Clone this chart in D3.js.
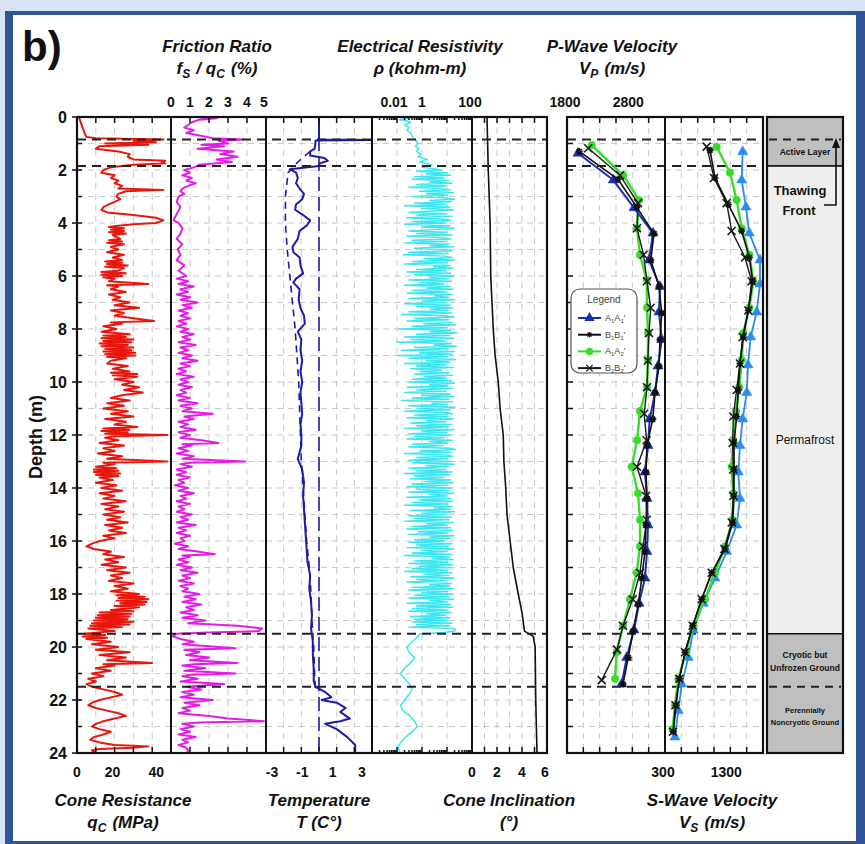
<!DOCTYPE html>
<html><head><meta charset="utf-8">
<script src="https://cdn.jsdelivr.net/npm/d3@7"></script>
<style>body{margin:0;background:#dae3f3}svg{display:block}</style>
</head><body><svg id="c" width="865" height="844"></svg>
<script>
// ---------------- DATA ----------------
const depthTicks = [0,2,4,6,8,10,12,14,16,18,20,22,24];
const qcTickLabels = [0,20,40];
const frTickLabels = [0,1,2,3,4,5];
const tempTickLabels = [-3,-1,1,3];
const resTickLabels = [0.01,1,100];
const incTickLabels = [0,2,4,6];
const vpTickLabels = [1800,2800];
const vsTickLabels = [300,1300];
const boundaryDepths = [0.85,1.85,19.5,21.5];

// cone resistance qc (MPa): [depth m, qc]
const qcData = [[0,1],[0.2,2],[0.4,3],[0.6,4],[0.75,5],[0.8,10],[0.85,46],[0.9,30],[0.95,42],[1.0,15],[1.05,38],[1.1,12],[1.2,10],[1.3,22],[1.4,28],[1.5,27],[1.6,30],[1.65,47],[1.7,45],[1.75,47],[1.8,30],[1.9,18],[2.0,14],[2.1,13],[2.2,20],[2.3,18],[2.4,22],[2.5,20],[2.6,24],[2.7,22],[2.75,46],[2.8,26],[2.9,22],[3.0,21],[3.1,23],[3.2,20],[3.3,17],[3.4,14],[3.5,13],[3.6,16],[3.7,30],[3.8,42],[3.9,46],[4.0,42],[4.05,30],[4.1,22],[4.15,17],[4.2,25],[4.25,18],[4.3,25],[4.35,17],[4.4,26],[4.45,19],[4.5,20],[4.6,23],[4.65,17],[4.7,24],[4.75,16],[4.8,25],[4.9,18],[5.0,22],[5.1,16],[5.2,25],[5.3,19],[5.4,24],[5.45,15],[5.5,24],[5.55,16],[5.6,27],[5.65,15],[5.7,25],[5.8,22],[5.85,13],[5.9,26],[5.95,13],[6.0,24],[6.05,14],[6.1,20],[6.2,17],[6.3,38],[6.35,16],[6.4,22],[6.5,18],[6.6,26],[6.7,17],[6.8,23],[6.9,19],[7.0,28],[7.1,20],[7.2,33],[7.3,18],[7.4,25],[7.5,20],[7.6,31],[7.7,41],[7.75,18],[7.8,24],[7.9,14],[8.0,21],[8.1,13],[8.2,28],[8.25,14],[8.3,26],[8.35,13],[8.4,30],[8.45,14],[8.5,29],[8.55,12],[8.6,27],[8.65,13],[8.7,30],[8.75,15],[8.8,29],[8.85,14],[8.9,31],[8.95,15],[9.0,31],[9.05,16],[9.1,26],[9.2,18],[9.3,16],[9.4,27],[9.5,19],[9.6,28],[9.65,18],[9.7,32],[9.75,19],[9.8,32],[9.9,20],[10.0,30],[10.1,24],[10.2,33],[10.3,25],[10.4,35],[10.5,24],[10.6,18],[10.7,28],[10.8,16],[10.9,25],[11.0,14],[11.1,27],[11.2,18],[11.3,30],[11.4,15],[11.5,26],[11.6,20],[11.7,32],[11.75,14],[11.8,28],[11.85,13],[11.9,27],[11.95,15],[12.0,48],[12.05,20],[12.1,15],[12.2,22],[12.3,12],[12.4,25],[12.5,14],[12.6,20],[12.7,11],[12.8,24],[12.9,16],[13.0,48],[13.05,14],[13.1,20],[13.2,10],[13.25,21],[13.3,9],[13.35,22],[13.4,9],[13.45,23],[13.5,10],[13.55,22],[13.6,12],[13.7,19],[13.8,10],[13.9,21],[14.0,13],[14.1,24],[14.2,12],[14.3,20],[14.4,14],[14.5,26],[14.6,13],[14.7,22],[14.8,15],[14.9,25],[15.0,14],[15.1,23],[15.2,16],[15.3,27],[15.4,15],[15.5,24],[15.6,17],[15.7,26],[15.8,14],[15.9,20],[16.0,12],[16.1,8],[16.2,5],[16.3,9],[16.4,18],[16.5,14],[16.6,25],[16.7,15],[16.8,22],[16.9,13],[17.0,26],[17.1,16],[17.2,28],[17.3,18],[17.4,24],[17.5,17],[17.6,30],[17.7,20],[17.8,27],[17.9,18],[18.0,33],[18.05,21],[18.1,36],[18.15,22],[18.2,38],[18.25,21],[18.3,37],[18.35,23],[18.4,36],[18.45,20],[18.5,33],[18.6,18],[18.65,30],[18.7,12],[18.75,29],[18.8,11],[18.85,28],[18.9,10],[18.95,27],[19.0,9],[19.05,30],[19.1,8],[19.15,28],[19.2,7],[19.25,24],[19.3,6],[19.4,20],[19.5,4],[19.55,15],[19.6,3],[19.65,16],[19.7,5],[19.8,18],[19.9,8],[20.0,22],[20.1,10],[20.2,28],[20.3,12],[20.4,26],[20.5,16],[20.6,40],[20.65,14],[20.7,20],[20.8,10],[20.9,18],[21.0,8],[21.1,14],[21.2,6],[21.3,10],[21.4,5],[21.5,8],[21.6,14],[21.7,20],[21.8,24],[21.9,18],[22.0,12],[22.1,8],[22.2,6],[22.3,10],[22.4,16],[22.5,22],[22.6,26],[22.7,20],[22.8,14],[22.9,10],[23.0,8],[23.1,12],[23.2,18],[23.3,14],[23.4,9],[23.5,7],[23.6,12],[23.7,20],[23.75,38],[23.8,30],[23.85,12],[23.9,8],[24.0,10]];

// friction ratio fs/qc (%): [depth, %]
const frData = [[0,1.3],[0.05,2.4],[0.1,1.5],[0.2,1.1],[0.3,0.9],[0.4,0.7],[0.5,1.2],[0.6,0.8],[0.7,1.5],[0.8,2.2],[0.85,3.8],[0.9,2.5],[1.0,3.0],[1.05,1.6],[1.1,2.8],[1.2,1.4],[1.3,3.3],[1.4,2.6],[1.5,3.5],[1.6,2.4],[1.7,3.2],[1.8,1.5],[1.9,1.2],[2.0,0.7],[2.1,1.0],[2.2,0.6],[2.3,1.1],[2.4,0.8],[2.5,1.3],[2.6,0.9],[2.7,0.6],[2.8,0.5],[2.9,0.7],[3.0,0.4],[3.2,0.3],[3.4,0.5],[3.6,0.35],[3.8,0.2],[3.9,0.15],[4.0,0.4],[4.2,0.6],[4.4,0.5],[4.6,0.3],[4.8,0.6],[5.0,0.35],[5.2,0.5],[5.4,0.3],[5.6,0.7],[5.8,0.4],[6.0,0.8],[6.1,0.3],[6.2,0.9],[6.3,0.4],[6.4,1.2],[6.5,0.5],[6.6,0.9],[6.7,0.3],[6.8,1.0],[6.9,0.5],[7.0,1.4],[7.1,0.6],[7.2,1.1],[7.3,0.4],[7.4,0.9],[7.5,0.5],[7.6,1.0],[7.7,0.4],[7.8,0.8],[7.9,0.3],[8.0,0.9],[8.1,0.5],[8.2,1.2],[8.3,0.6],[8.4,1.0],[8.5,0.4],[8.6,1.3],[8.7,0.5],[8.8,0.9],[8.9,0.4],[9.0,1.1],[9.1,0.6],[9.2,1.4],[9.3,0.5],[9.4,1.0],[9.5,0.4],[9.6,0.8],[9.7,0.3],[9.8,1.2],[9.9,0.5],[10.0,0.9],[10.1,0.4],[10.2,1.1],[10.3,0.5],[10.4,0.8],[10.5,0.3],[10.6,1.0],[10.7,0.4],[10.8,1.4],[10.9,0.5],[11.0,1.1],[11.1,0.6],[11.2,2.2],[11.3,0.7],[11.4,1.2],[11.5,0.4],[11.6,0.9],[11.7,0.5],[11.8,1.3],[11.9,0.4],[12.0,1.0],[12.1,0.5],[12.2,1.6],[12.3,2.5],[12.35,0.6],[12.4,1.1],[12.5,0.4],[12.6,0.9],[12.7,0.3],[12.8,1.2],[12.9,0.6],[13.0,3.9],[13.05,1.0],[13.1,0.5],[13.2,1.1],[13.3,0.3],[13.4,0.8],[13.5,0.3],[13.6,1.0],[13.7,0.4],[13.8,0.7],[13.9,0.2],[14.0,0.9],[14.1,0.4],[14.2,1.2],[14.3,0.5],[14.4,0.8],[14.5,0.3],[14.6,1.0],[14.7,0.4],[14.8,0.7],[14.9,0.3],[15.0,1.1],[15.1,0.5],[15.2,0.9],[15.3,0.3],[15.4,1.3],[15.5,0.4],[15.6,0.8],[15.7,0.3],[15.8,1.0],[15.9,0.5],[16.0,0.7],[16.1,0.2],[16.2,0.9],[16.3,0.4],[16.4,1.4],[16.5,2.3],[16.55,0.6],[16.6,1.0],[16.7,0.4],[16.8,0.9],[16.9,0.3],[17.0,1.1],[17.1,0.5],[17.2,1.4],[17.3,0.6],[17.4,1.0],[17.5,0.4],[17.6,1.2],[17.7,0.5],[17.8,0.9],[17.9,0.6],[18.0,1.5],[18.1,0.7],[18.2,1.3],[18.3,0.6],[18.4,1.6],[18.5,0.8],[18.6,1.2],[18.7,0.5],[18.8,1.4],[18.9,0.6],[19.0,1.8],[19.1,0.9],[19.2,3.5],[19.3,4.8],[19.4,4.6],[19.45,2.0],[19.5,0.3],[19.6,0.1],[19.7,0.5],[19.8,1.2],[19.9,0.6],[20.0,2.5],[20.05,3.4],[20.1,0.7],[20.2,1.5],[20.3,0.8],[20.4,2.0],[20.5,1.0],[20.6,3.5],[20.65,1.2],[20.7,0.6],[20.8,1.8],[20.9,0.7],[21.0,3.4],[21.05,1.0],[21.1,0.6],[21.2,1.4],[21.3,0.5],[21.4,2.8],[21.5,0.8],[21.6,1.6],[21.7,0.6],[21.8,1.2],[21.9,0.5],[22.0,2.2],[22.1,0.7],[22.2,1.5],[22.3,0.6],[22.4,1.0],[22.5,0.4],[22.6,2.0],[22.7,3.0],[22.8,4.9],[22.85,1.5],[22.9,0.6],[23.0,1.2],[23.1,0.5],[23.2,1.0],[23.3,0.4],[23.4,1.3],[23.5,0.6],[23.6,0.9],[23.7,0.4],[23.8,0.8],[23.9,0.9],[24.0,0.85]];

// temperature (°C): measured and minimum profiles
const tempData = [[0,0],[0.85,0],[0.87,3],[0.89,-0.2],[1.0,-0.2],[1.2,-0.25],[1.3,-0.5],[1.45,-0.5],[1.55,0.3],[1.65,0.5],[1.75,0.05],[1.85,0],[1.97,-1.65],[2.1,-1.3],[2.3,-1.2],[2.5,-1.3],[2.7,-1.1],[2.9,-0.85],[3.1,-0.95],[3.3,-1.3],[3.5,-1.35],[3.7,-0.9],[3.9,-0.5],[4.1,-0.7],[4.3,-1.1],[4.6,-1.2],[4.9,-1.5],[5.1,-1.45],[5.3,-1.1],[5.6,-1.05],[5.9,-0.9],[6.1,-1.3],[6.25,-1.45],[6.5,-1.1],[6.9,-1.15],[7.2,-1.05],[7.5,-0.85],[7.8,-0.8],[8.1,-1.2],[8.4,-1.0],[8.8,-1.05],[9.2,-0.95],[9.6,-1.05],[10.0,-0.95],[10.4,-1.05],[10.8,-1.0],[11.2,-0.95],[11.6,-1.05],[12.0,-1.0],[12.4,-1.0],[12.9,-1.2],[13.3,-0.95],[13.8,-0.85],[14.3,-0.9],[14.8,-0.85],[15.3,-0.8],[15.8,-0.75],[16.3,-0.7],[16.8,-0.65],[17.3,-0.5],[17.8,-0.55],[18.3,-0.45],[18.8,-0.4],[19.3,-0.45],[19.8,-0.35],[20.3,-0.35],[20.8,-0.3],[21.3,-0.3],[21.5,-0.2],[21.7,0.35],[21.9,0.7],[22.0,0.15],[22.1,1.0],[22.3,1.5],[22.45,1.2],[22.7,1.75],[22.8,1.2],[22.9,0.35],[23.1,1.0],[23.4,1.6],[23.7,2.05],[24,2.05]];
const tempMinData = [[1.3,-0.5],[1.7,-1.2],[2.1,-1.75],[3.0,-1.9],[4.0,-1.9],[5.0,-1.8],[6.0,-1.65],[7.0,-1.5],[8.0,-1.35],[9.0,-1.25],[10.0,-1.15],[11.0,-1.1],[12.0,-1.05],[13.0,-1.0],[14.0,-0.9],[15.0,-0.8],[16.0,-0.7],[17.0,-0.55],[18.0,-0.45],[19.0,-0.4],[20.0,-0.3],[21.0,-0.25],[21.6,-0.2]];
const tempZeroData = [[0,0],[24,0]];

// electrical resistivity (kohm-m): shallow part, dense permafrost part (0.05 m spacing from 2.0 m), deep part
const resTop = [[0,0.15],[0.05,0.3],[0.1,0.12],[0.15,0.25],[0.2,0.35],[0.3,0.2],[0.4,0.3],[0.5,0.25],[0.6,0.35],[0.7,0.4],[0.8,0.45],[0.9,0.6],[1.0,0.7],[1.1,0.55],[1.2,0.75],[1.3,0.6],[1.4,0.9],[1.5,0.7],[1.6,1.6],[1.7,0.8],[1.8,2.5],[1.9,1.0],[1.95,3]];
const resFrozenStart = 2.0, resFrozenStep = 0.05;
const resFrozen = [
6,0.6,10,1.5,14,0.5,8,0.4,12,2,16,0.6,9,0.3,5,14,0.8,18,1.5,11,
0.4,7,20,2,15,0.5,9,0.2,13,1,19,3,0.3,10,0.6,16,0.25,6,14,0.4,
9,0.2,13,1,19,3,0.3,10,0.6,16,0.25,6,14,0.4,9,0.2,12,2,18,0.5,
7,15,0.3,11,0.18,8,16,1.2,20,0.4,10,0.2,13,3,17,0.6,9,0.25,14,0.5,
19,2,11,0.3,15,0.8,8,0.2,13,1.5,18,0.4,10,0.25,16,3,12,0.3,20,1,
9,0.2,14,0.6,17,2,11,0.3,15,0.15,8,19,0.5,12,0.25,16,1.2,22,0.4,10,
0.12,14,2,25,0.6,13,0.2,18,0.35,9,0.1,15,3,24,0.5,12,0.15,20,0.8,16,
0.1,11,0.3,22,1.5,14,0.2,9,0.6,18,0.35,6,0.8,12,0.5,17,1.2,10,0.4,15,
0.3,20,2,11,0.25,16,0.6,9,0.2,14,1,19,0.4,12,0.15,17,2.5,10,0.3,21,
0.7,13,0.2,8,16,0.5,11,0.25,18,1.5,9,0.35,15,0.6,12,0.2,19,1,10,0.3,
14,0.5,8,0.25,16,2,11,0.4,7,0.3,13,22,0.8,14,0.2,9,17,0.6,11,0.3,
15,0.4,20,1.5,12,0.3,9,0.6,16,0.2,13,0.5,8,0.35,14,1.2,18,0.4,10,0.25,
15,0.6,12,0.3,19,2,10,0.25,14,0.8,17,0.4,11,0.2,16,3,13,0.35,20,1,
9,0.3,15,0.5,12,0.2,18,1.5,10,0.4,14,0.25,17,0.7,11,0.3,19,2,13,0.5,
8,0.3,16,0.6,12,0.25,19,1,10,0.4,15,0.2,13,2.5,18,0.5,11,0.3,17,0.8,
14,0.4,10,0.2,16,1.2,12,0.35,19,0.6,9,0.25,15,2,13,0.4,18,0.3,11,1,
16,0.5,12,0.3,18,2,10,0.25,14,0.6,17,0.4,11,0.3,15,1.5,9,0.35,13,0.5,
11,0.4,16,0.6,13,0.3,18,22,20,8];
const resDeep = [[19.5,0.8],[19.6,0.7],[19.8,0.4],[20.0,0.25],[20.2,0.3],[20.4,0.5],[20.6,0.35],[20.8,0.2],[21.0,0.14],[21.2,0.2],[21.4,0.32],[21.6,0.4],[21.8,0.3],[22.0,0.2],[22.2,0.14],[22.4,0.17],[22.6,0.33],[22.8,0.5],[23.0,0.65],[23.2,0.4],[23.4,0.22],[23.6,0.14],[23.8,0.11],[24,0.13]];

// cone inclination (deg)
const incData = [[0,1.2],[2,1.3],[4,1.45],[6,1.5],[8,1.7],[9,1.85],[10,2.1],[11,2.25],[12,2.5],[13,2.55],[14,2.7],[15,2.8],[16,3.05],[17,3.3],[18,3.7],[18.7,4.0],[19.4,4.2],[19.6,4.9],[20,5.05],[22,5.1],[24,5.2]];

// P-wave velocity (m/s) per line: [depth, Vp]
const vpA1 = [[1.37,1980],[2.38,2556],[3.43,2894],[4.38,3204],[5.4,3139],[6.4,3318],[7.36,3302],[8.4,3346],[9.4,3286],[10.4,3237],[11.4,3150],[12.4,3122],[13.4,3073],[14.4,3106],[15.4,3122],[16.4,3106],[17.4,3073],[18.35,2976],[19.36,2894],[20.4,2775],[21.4,2693]];
const vpB1 = [[1.3,2000],[2.35,2633],[3.4,2938],[4.4,3220],[5.4,3167],[6.4,3302],[7.4,3346],[8.4,3318],[9.4,3302],[10.4,3237],[11.4,3200],[12.4,3106],[13.4,3090],[14.4,3106],[15.4,3090],[16.4,3073],[17.4,3020],[18.4,2964],[19.4,2878],[20.4,2800],[21.4,2714]];
const vpA2 = [[1.06,2203],[2.2,2718],[3.13,2976],[4.2,2943],[5.2,2992],[6.15,3102],[7.2,3106],[8.15,3122],[9.17,3122],[10.2,3106],[11.1,2992],[12.2,2943],[13.2,2856],[14.2,2959],[15.2,2992],[16.2,2992],[17.2,2938],[18.2,2829],[19.2,2714],[20.2,2611],[21.2,2584]];
const vpB2 = [[1.18,2147],[2.2,2665],[3.25,2959],[4.2,2943],[5.2,3050],[6.2,3106],[7.2,3167],[8.15,3139],[9.2,3120],[10.2,3106],[11.2,3060],[12.2,3100],[13.2,2943],[14.3,3090],[15.2,3102],[16.2,3041],[17.2,2992],[18.2,2873],[19.2,2714],[20.1,2616],[21.25,2367]];
// S-wave velocity (m/s)
const vsA1 = [[1.31,1568],[2.38,1552],[3.4,1622],[4.38,1677],[5.4,1851],[6.3,1851],[7.36,1797],[8.3,1699],[9.36,1655],[10.4,1634],[11.4,1568],[12.4,1524],[13.4,1497],[14.4,1524],[15.4,1470],[16.4,1307],[17.4,1116],[18.35,925],[19.36,762],[20.4,680],[21.4,573],[22.4,517],[23.4,463]];
const vsB1 = [[1.25,1035],[2.3,1116],[3.3,1333],[4.3,1552],[5.3,1677],[6.2,1732],[7.3,1660],[8.3,1578],[9.3,1524],[10.3,1497],[11.3,1470],[12.3,1427],[13.3,1427],[14.3,1427],[15.3,1405],[16.3,1280],[17.2,1062],[18.2,899],[19.2,752],[20.2,627],[21.2,534],[22.2,480],[23.2,436]];
const vsA2 = [[1.12,1144],[2.1,1361],[3.13,1470],[4.2,1552],[5.2,1677],[6.2,1742],[7.2,1677],[8.15,1578],[9.17,1552],[10.2,1513],[11.1,1459],[12.2,1415],[13.2,1388],[14.2,1415],[15.2,1405],[16.2,1280],[17.2,1116],[18.2,953],[19.2,762],[20.2,643],[21.2,517],[22.2,463],[23.1,426]];
const vsB2 = [[1.12,981],[2.3,1100],[3.25,1307],[4.3,1388],[5.3,1606],[6.2,1715],[7.3,1660],[8.3,1568],[9.3,1524],[10.3,1470],[11.3,1415],[12.3,1405],[13.3,1415],[14.3,1415],[15.3,1390],[16.3,1270],[17.2,1062],[18.2,899],[19.2,752],[20.2,627],[21.2,534],[22.2,470],[23.2,430]];

const legendLabels = [["A","1","A","1","'"],["B","1","B","1","'"],["A","1","A","2","'"],["B","2","B","2","'"]];
const zoneNames = ["Active Layer","Permafrost","Cryotic but|Unfrozen Ground","Perennially|Noncryotic Ground"];
const zoneDepths = [[0,1.85],[1.85,19.5],[19.5,24]];

// ---------------- DRAW ----------------
const svg = d3.select("#c");
const F = "'Liberation Sans', Arial, Helvetica, sans-serif";

svg.append("rect").attr("width",865).attr("height",844).attr("fill","#dae3f3");
svg.append("rect").attr("x",5).attr("y",11).attr("width",860).attr("height",833).attr("fill","#2f5597");
svg.append("rect").attr("x",13).attr("y",15).attr("width",843).attr("height",826).attr("fill","#ffffff");

const Y0 = 117, Y1 = 753;
const y = d3.scaleLinear().domain([0,24]).range([Y0,Y1]);

const xq = d3.scaleLinear().domain([0,50]).range([77,171]);
const xf = d3.scaleLinear().domain([0,5]).range([171,266]);
const xt = d3.scaleLinear().domain([-3,3]).range([266,372]);
const xr = d3.scaleLog().domain([0.01,100]).range([372,472]);
const xi = d3.scaleLinear().domain([0,6]).range([472,547]);
const xp = d3.scaleLinear().domain([1800,3400]).range([567,665]);
const xs = d3.scaleLinear().domain([300,1900]).range([665,763]);

const panels = [
  {s:xq, n:5}, {s:xf, n:5}, {s:xt, n:6}, {s:xr, n:0, log:true}, {s:xi, n:6}, {s:xp, n:6}, {s:xs, n:6}
];

// grid
const grid = svg.append("g").attr("stroke","#c9c9c9").attr("stroke-width",1).attr("stroke-dasharray","6,5");
panels.forEach(p=>{
  const [a,b] = p.s.range();
  d3.range(1,24).forEach(d=>{
    grid.append("line").attr("x1",a).attr("x2",b).attr("y1",y(d)).attr("y2",y(d));
  });
  let xsPos = [];
  if (p.log) xsPos = [0.1,1,10].map(v=>p.s(v));
  else xsPos = d3.range(1,p.n).map(i=>a+(b-a)*i/p.n);
  xsPos.forEach(x=>grid.append("line").attr("x1",x).attr("x2",x).attr("y1",Y0).attr("y2",Y1));
});

// clip paths
const defs = svg.append("defs");
panels.forEach((p,i)=>{
  const [a,b] = p.s.range();
  defs.append("clipPath").attr("id","cp"+i).append("rect").attr("x",a).attr("y",Y0).attr("width",b-a).attr("height",Y1-Y0);
});

function trace(data, xscale, ci, color, w, dash){
  const line = d3.line().x(d=>xscale(d[1])).y(d=>y(d[0]));
  const p = svg.append("path").datum(data).attr("d",line).attr("fill","none")
    .attr("stroke",color).attr("stroke-width",w).attr("stroke-linejoin","round")
    .attr("clip-path","url(#cp"+ci+")");
  if (dash) p.attr("stroke-dasharray",dash);
  return p;
}
const resData = resTop.concat(resFrozen.map((v,i)=>[resFrozenStart+i*resFrozenStep, v]), resDeep);

trace(qcData, xq, 0, "#e8160c", 2);
trace(frData, xf, 1, "#e41de4", 2);
trace(tempZeroData, xt, 2, "#1c1ca8", 1.6, "14,6");
trace(tempMinData, xt, 2, "#1c1ca8", 1.6, "7,5");
trace(tempData, xt, 2, "#1c1ca8", 2);
trace(resData, xr, 3, "#3fe6ef", 1.5);
trace(incData, xi, 4, "#111", 1.6);

// boundary dashed lines
const bd = svg.append("g").attr("stroke","#222").attr("stroke-width",2).attr("stroke-dasharray","9,6");
boundaryDepths.forEach(d=>{
  bd.append("line").attr("x1",77).attr("x2",547).attr("y1",y(d)).attr("y2",y(d));
  bd.append("line").attr("x1",567).attr("x2",763).attr("y1",y(d)).attr("y2",y(d));
});

// velocity series
function symPath(type){
  if (type==="tri") return d3.symbol(d3.symbolTriangle, 45)();
  if (type==="dot") return d3.symbol(d3.symbolCircle, 45)();
  if (type==="star") return "M-3.5,0H3.5M0,-3.5V3.5M-2.5,-2.5L2.5,2.5M-2.5,2.5L2.5,-2.5";
  return "M-4,-4L4,4M-4,4L4,-4";
}
function vseries(data, xscale, ci, color, type, w){
  trace(data, xscale, ci, color, w);
  const g = svg.append("g").attr("clip-path","url(#cp"+ci+")");
  g.selectAll("path").data(data).join("path")
    .attr("transform",d=>`translate(${xscale(d[1])},${y(d[0])})`)
    .attr("d",symPath(type))
    .attr("fill",(type==="tri"||type==="dot")?color:"none")
    .attr("stroke",color).attr("stroke-width",(type==="tri"||type==="dot")?0.5:1.6);
}
vseries(vpA2, xp, 5, "#38dd2c", "dot", 2.4);
vseries(vpB2, xp, 5, "#1a1a1a", "x", 1.4);
vseries(vpA1, xp, 5, "#1a2fb0", "tri", 2);
vseries(vpB1, xp, 5, "#111", "star", 1.6);
vseries(vsA1, xs, 6, "#2a8cf0", "tri", 1.8);
vseries(vsA2, xs, 6, "#38dd2c", "dot", 2.4);
vseries(vsB2, xs, 6, "#1a1a1a", "x", 1.4);
vseries(vsB1, xs, 6, "#111", "star", 1.6);

// panel frames and ticks
const fr = svg.append("g").attr("fill","none").attr("stroke","#111");
fr.append("rect").attr("x",77).attr("y",Y0).attr("width",470).attr("height",Y1-Y0).attr("stroke-width",2.2);
[171,266,372,472].forEach(x=>fr.append("line").attr("x1",x).attr("x2",x).attr("y1",Y0).attr("y2",Y1).attr("stroke-width",2));
fr.append("rect").attr("x",567).attr("y",Y0).attr("width",196).attr("height",Y1-Y0).attr("stroke-width",2.2);
fr.append("line").attr("x1",665).attr("x2",665).attr("y1",Y0).attr("y2",Y1).attr("stroke-width",2);

const tk = svg.append("g").attr("stroke","#111").attr("stroke-width",1.5);
panels.forEach(p=>{
  const [a,b] = p.s.range();
  let pos = [];
  if (p.log){
    [0.01,0.1,1,10].forEach(dec=>{ [2,3,4,5,6,7,8,9].forEach(m=>pos.push([p.s(dec*m),3])); if(dec>0.01) pos.push([p.s(dec),6]); });
  } else pos = d3.range(1,p.n).map(i=>[a+(b-a)*i/p.n,6]);
  pos.forEach(([x,l])=>{
    tk.append("line").attr("x1",x).attr("x2",x).attr("y1",Y0).attr("y2",Y0+l);
    tk.append("line").attr("x1",x).attr("x2",x).attr("y1",Y1).attr("y2",Y1-l);
  });
});
// depth ticks
d3.range(0,25).forEach(d=>{
  const major = d%2===0;
  tk.append("line").attr("x1",major?72:77).attr("x2",82).attr("y1",y(d)).attr("y2",y(d));
  if (d>0 && d<24) tk.append("line").attr("x1",567).attr("x2",573).attr("y1",y(d)).attr("y2",y(d));
});

// depth labels
svg.append("g").selectAll("text").data(depthTicks).join("text")
  .attr("x",67).attr("y",d=>y(d)+5.5).attr("text-anchor","end")
  .attr("font-family",F).attr("font-weight","bold").attr("font-size",16).attr("fill","#111").text(d=>d);
svg.append("text").attr("transform","translate(42,437) rotate(-90)").attr("text-anchor","middle")
  .attr("font-family",F).attr("font-weight","bold").attr("font-size",18).attr("fill","#111").text("Depth (m)");

// tick labels
function tlabels(vals, scale, yy, nudge){
  svg.append("g").selectAll("text").data(vals).join("text")
    .attr("x",(d,i)=>scale(d)+(nudge?nudge[i]:0)).attr("y",yy).attr("text-anchor","middle")
    .attr("font-family",F).attr("font-weight","bold").attr("font-size",14).attr("fill","#111")
    .text(d=>d);
}
tlabels(frTickLabels, xf, 107, [0,0,0,0,0,-2]);
tlabels(resTickLabels, xr, 107, [22,0,-2]);
tlabels(vpTickLabels, xp, 107, [-2,0]);
tlabels(qcTickLabels, xq, 777, [0,-2,4]);
tlabels(tempTickLabels, xt, 777, [6,1,-4,-10]);
tlabels(incTickLabels, xi, 777, [0,0,0,-2]);
tlabels(vsTickLabels, xs, 777, [-2,0]);

// titles
function title(lines, x, y0){
  lines.forEach((parts,li)=>{
    const t = svg.append("text").attr("x",x).attr("y",y0+li*22).attr("text-anchor","middle")
      .attr("font-family",F).attr("font-weight","bold").attr("font-style","italic").attr("font-size",17).attr("fill","#111");
    parts.forEach(p=>{
      if (typeof p === "string") t.append("tspan").text(p);
      else { t.append("tspan").attr("font-size",12).attr("dy",4).text(p.sub); t.append("tspan").attr("dy",-4).text("\u200a"); }
    });
  });
}
title([["Friction Ratio"],["f",{sub:"S"}," / q",{sub:"C"}," (%)"]], 217, 52);
title([["Electrical Resistivity"],["\u03c1 (kohm-m)"]], 420, 52);
title([["P-Wave Velocity"],["V",{sub:"P"}," (m/s)"]], 612, 52);
title([["Cone Resistance"],["q",{sub:"C"}," (MPa)"]], 123, 806);
title([["Temperature"],["T (C\u00b0)"]], 319, 806);
title([["Cone Inclination"],["(\u00b0)"]], 509, 806);
title([["S-Wave Velocity"],["V",{sub:"S"}," (m/s)"]], 712, 806);

svg.append("text").attr("x",22).attr("y",61).attr("font-family",F).attr("font-weight","bold")
  .attr("font-size",42).attr("fill","#111").text("b)");

// legend
const lg = svg.append("g");
lg.append("rect").attr("x",571).attr("y",289).attr("width",66).attr("height",84).attr("rx",9)
  .attr("fill","#fff").attr("stroke","#555").attr("stroke-width",1.2);
lg.append("text").attr("x",604).attr("y",303).attr("text-anchor","middle").attr("font-family",F)
  .attr("font-size",10).attr("fill","#444").text("Legend");
const lgItems = [["#1a2fb0","tri"],["#111","star"],["#38dd2c","dot"],["#1a1a1a","x"]];
lgItems.forEach(([c,type],i)=>{
  const yy = 318 + i*16.7;
  lg.append("line").attr("x1",578).attr("x2",601).attr("y1",yy).attr("y2",yy).attr("stroke",c).attr("stroke-width",2);
  lg.append("path").attr("transform",`translate(589.5,${yy}) scale(0.8)`).attr("d",symPath(type))
    .attr("fill",(type==="tri"||type==="dot")?c:"none").attr("stroke",c).attr("stroke-width",1.5);
  const t = lg.append("text").attr("x",605).attr("y",yy+3).attr("font-family",F).attr("font-size",9).attr("fill","#444");
  const L = legendLabels[i];
  t.append("tspan").text(L[0]); t.append("tspan").attr("font-size",6).attr("dy",2).text(L[1]);
  t.append("tspan").attr("dy",-2).text(L[2]); t.append("tspan").attr("font-size",6).attr("dy",2).text(L[3]);
  t.append("tspan").attr("dy",-2).text(L[4]);
});

// zone strip
const zx0 = 767, zx1 = 843;
const zfill = ["#bfbfbf","#efefef","#bfbfbf"];
zoneDepths.forEach((z,i)=>{
  svg.append("rect").attr("x",zx0).attr("y",y(z[0])).attr("width",zx1-zx0).attr("height",y(z[1])-y(z[0]))
    .attr("fill",zfill[i]).attr("stroke","#111").attr("stroke-width",1.5);
});
svg.append("rect").attr("x",zx0).attr("y",Y0).attr("width",zx1-zx0).attr("height",Y1-Y0)
  .attr("fill","none").attr("stroke","#111").attr("stroke-width",2.2);
[0.85,21.5].forEach(d=>svg.append("line").attr("x1",zx0+2).attr("x2",zx1-2).attr("y1",y(d)).attr("y2",y(d))
  .attr("stroke","#222").attr("stroke-width",2).attr("stroke-dasharray","8,6"));
const zc = (zx0+zx1)/2;
function ztext(txt, yy, size, weight){
  svg.append("text").attr("x",zc).attr("y",yy).attr("text-anchor","middle").attr("font-family",F)
    .attr("font-size",size).attr("font-weight",weight).attr("fill","#111").text(txt);
}
ztext(zoneNames[0], 155, 8.5, "bold");
ztext(zoneNames[1], 444, 12, "normal");
zoneNames[2].split("|").forEach((s,i)=>ztext(s, 658+i*13, 8.5, "bold"));
zoneNames[3].split("|").forEach((s,i)=>ztext(s, 713+i*12, 7.5, "bold"));
svg.append("text").attr("x",800).attr("y",195).attr("text-anchor","middle").attr("font-family",F)
  .attr("font-size",13).attr("font-weight","bold").attr("fill","#111").text("Thawing");
svg.append("text").attr("x",799).attr("y",215).attr("text-anchor","middle").attr("font-family",F)
  .attr("font-size",13).attr("font-weight","bold").attr("fill","#111").text("Front");
svg.append("path").attr("d","M824,205H836V143").attr("fill","none").attr("stroke","#111").attr("stroke-width",1.6);
svg.append("path").attr("d","M836,138L832,148L840,148Z").attr("fill","#111");
</script></body></html>
